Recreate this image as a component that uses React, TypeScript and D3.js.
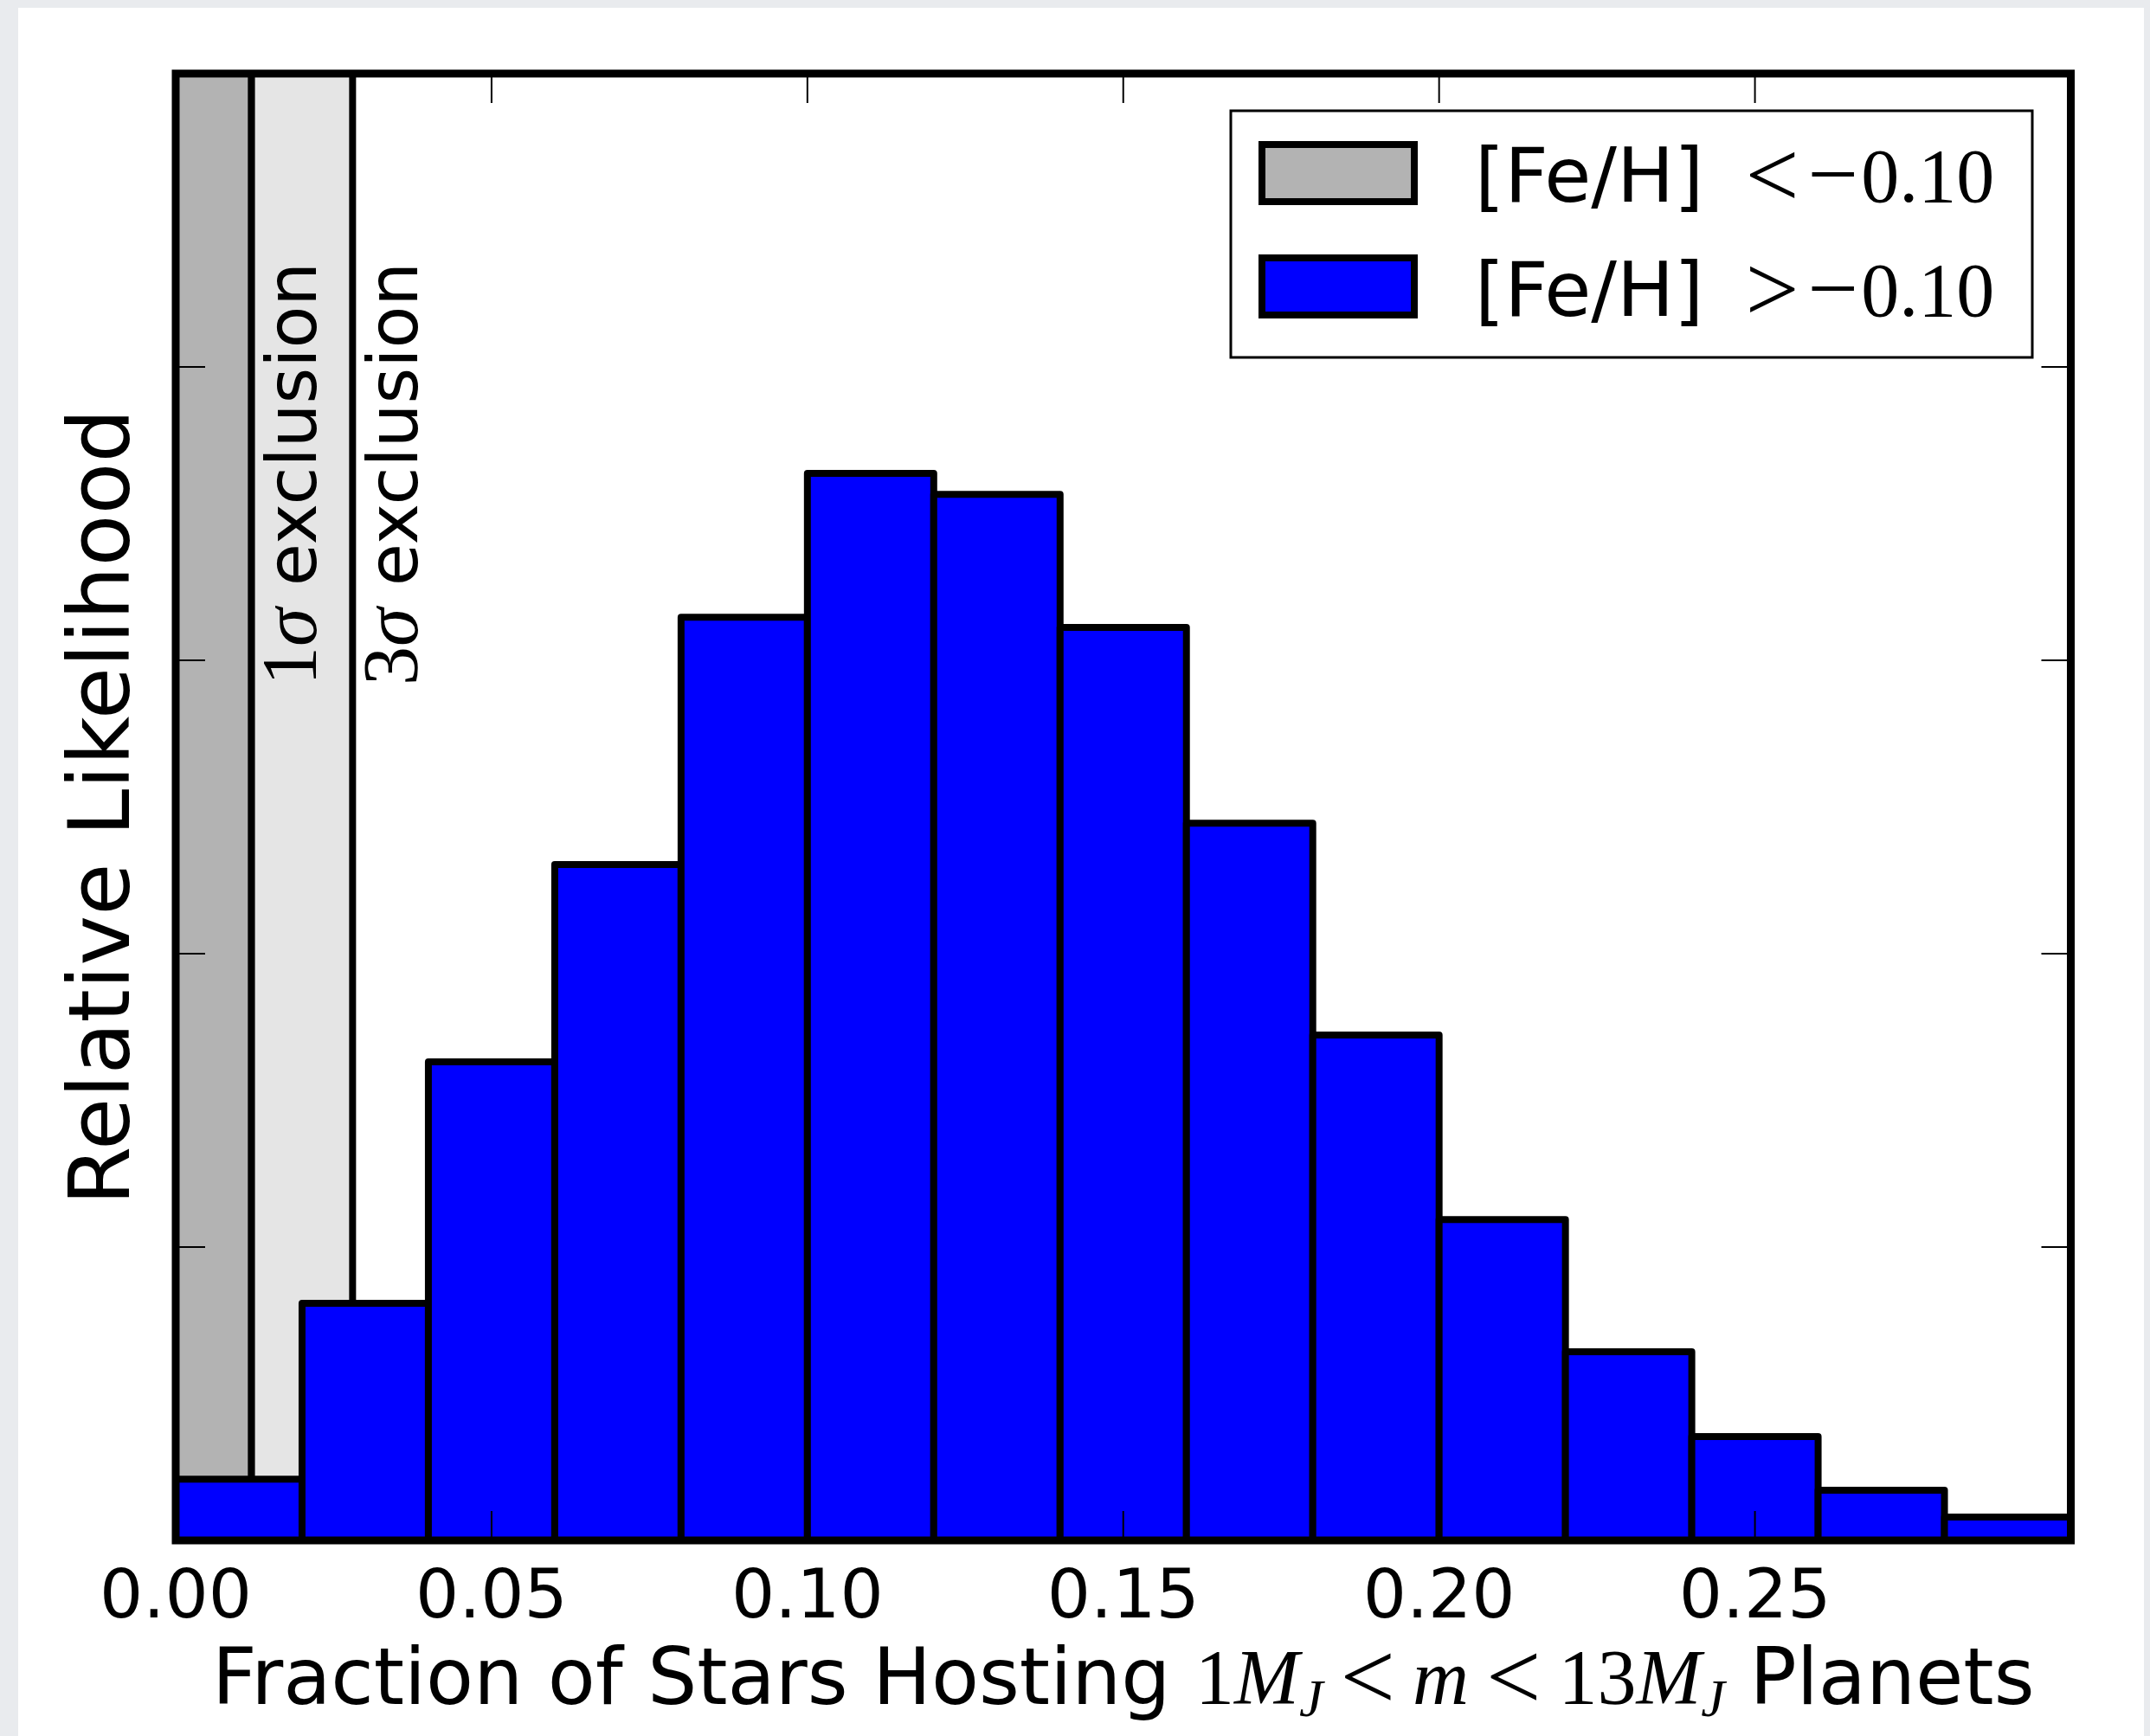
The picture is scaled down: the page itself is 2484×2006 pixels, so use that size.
import React from "react";
import * as d3 from "d3";

// Histogram bin edges (fraction of stars hosting giant planets)
const binEdges = [0.0, 0.02, 0.04, 0.06, 0.08, 0.1, 0.12, 0.14, 0.16, 0.18, 0.2, 0.22, 0.24, 0.26, 0.28, 0.3];
// Relative likelihood for the [Fe/H] > -0.10 sample, one per bin
const likelihood = [0.209, 0.808, 1.631, 2.304, 3.147, 3.637, 3.566, 3.112, 2.445, 1.723, 1.094, 0.643, 0.354, 0.171, 0.08];

// Exclusion limits for the [Fe/H] < -0.10 sample
const exclusion1Sigma = 0.012;
const exclusion3Sigma = 0.028;

const xTicks = [0.0, 0.05, 0.1, 0.15, 0.2, 0.25];
const xTickLabels = ["0.00", "0.05", "0.10", "0.15", "0.20", "0.25"];
const yTicks = [0, 1, 2, 3, 4, 5];

const SANS = "'DejaVu Sans', 'Bitstream Vera Sans', sans-serif";
const SERIF = "'Liberation Serif', 'DejaVu Serif', serif";

const W = 2484;
const H = 2006;

const margin = { left: 203, right: 2392.5, top: 85, bottom: 1780 };

const x = d3.scaleLinear().domain([0, 0.3]).range([margin.left, margin.right]);
const y = d3.scaleLinear().domain([0, 5]).range([margin.bottom, margin.top]);

const BLUE = "#0000ff";
const DARK_GREY = "#b3b3b3";
const LIGHT_GREY = "#e5e5e5";

// relation signs are set larger (TeX-like wide "<" / ">") and dropped slightly
const REL_SCALE = 1.25;
const REL_DROP = 6;
const SUB_SHIFT = 14;

export default function App() {
  const tickLen = 34;
  const bins = likelihood.map((v, i) => ({ x0: binEdges[i], x1: binEdges[i + 1], v }));
  const plotW = margin.right - margin.left;
  const plotH = margin.bottom - margin.top;
  const cx = (margin.left + margin.right) / 2;
  const cy = (margin.top + margin.bottom) / 2;

  // legend geometry
  const lg = { x: 1422, y: 128, w: 926, h: 285 };
  const rows = [
    { fill: DARK_GREY, rel: "<", py: 167, base: 233 },
    { fill: BLUE, rel: ">", py: 298, base: 365 },
  ];

  const xl = 90;

  return (
    <svg
      width={W}
      height={H}
      style={{ position: "absolute", left: 0, top: 0, display: "block" }}
      xmlns="http://www.w3.org/2000/svg"
    >
      <rect x={0} y={0} width={W} height={H} fill="#e9ebee" />
      <rect x={21} y={9} width={2456} height={H} fill="#ffffff" />

      {/* exclusion spans */}
      <rect
        x={x(0)}
        y={y(5)}
        width={x(exclusion1Sigma) - x(0)}
        height={y(0) - y(5)}
        fill={DARK_GREY}
        stroke="#000"
        strokeWidth={8}
      />
      <rect
        x={x(exclusion1Sigma)}
        y={y(5)}
        width={x(exclusion3Sigma) - x(exclusion1Sigma)}
        height={y(0) - y(5)}
        fill={LIGHT_GREY}
        stroke="#000"
        strokeWidth={8}
      />

      {/* histogram bars */}
      {bins.map((b, i) => (
        <rect
          key={i}
          x={x(b.x0)}
          y={y(b.v)}
          width={x(b.x1) - x(b.x0)}
          height={y(0) - y(b.v)}
          fill={BLUE}
          stroke="#000"
          strokeWidth={8}
          strokeLinejoin="round"
        />
      ))}

      {/* ticks on all four sides, pointing inward */}
      {xTicks.map((t, i) => (
        <g key={"xt" + i} stroke="#000" strokeWidth={2}>
          <line x1={x(t)} x2={x(t)} y1={margin.bottom} y2={margin.bottom - tickLen} />
          <line x1={x(t)} x2={x(t)} y1={margin.top} y2={margin.top + tickLen} />
        </g>
      ))}
      {yTicks.map((t, i) => (
        <g key={"yt" + i} stroke="#000" strokeWidth={2}>
          <line x1={margin.left} x2={margin.left + tickLen} y1={y(t)} y2={y(t)} />
          <line x1={margin.right} x2={margin.right - tickLen} y1={y(t)} y2={y(t)} />
        </g>
      ))}

      {/* frame */}
      <rect
        x={margin.left}
        y={margin.top}
        width={plotW}
        height={plotH}
        fill="none"
        stroke="#000"
        strokeWidth={9}
      />

      {/* x tick labels */}
      {xTicks.map((t, i) => (
        <text
          key={"xl" + i}
          x={x(t)}
          y={1869}
          textAnchor="middle"
          fontFamily={SANS}
          fontSize={79}
          fill="#000"
        >
          {xTickLabels[i]}
        </text>
      ))}

      {/* exclusion labels */}
      {[
        { pos: 0.0222, n: "1" },
        { pos: 0.0382, n: "3" },
      ].map((s) => (
        <text
          key={s.n}
          transform={`translate(${x(s.pos)},792) rotate(-90)`}
          fontFamily={SANS}
          fontSize={80}
          fill="#000"
        >
          <tspan fontFamily={SERIF} fontSize={90}>{s.n}</tspan>
          <tspan fontFamily={SERIF} fontSize={90} fontStyle="italic">σ</tspan>
          <tspan> exclusion</tspan>
        </text>
      ))}

      {/* y axis label */}
      <text
        transform={`translate(149,${cy}) rotate(-90)`}
        textAnchor="middle"
        fontFamily={SANS}
        fontSize={98}
        fill="#000"
      >
        Relative Likelihood
      </text>

      {/* x axis label */}
      <text x={cx} y={1969} textAnchor="middle" fontFamily={SANS} fontSize={xl} fill="#000">
        <tspan>Fraction of Stars Hosting </tspan>
        <tspan fontFamily={SERIF}>1</tspan>
        <tspan fontFamily={SERIF} fontStyle="italic">M</tspan>
        <tspan fontFamily={SERIF} fontStyle="italic" fontSize={62} dy={SUB_SHIFT}>J</tspan>
        <tspan fontFamily={SERIF} fontSize={xl * REL_SCALE} dx={20} dy={REL_DROP - SUB_SHIFT}>{"<"}</tspan>
        <tspan fontFamily={SERIF} fontSize={xl} fontStyle="italic" dx={20} dy={-REL_DROP}>m</tspan>
        <tspan fontFamily={SERIF} fontSize={xl * REL_SCALE} dx={20} dy={REL_DROP}>{"<"}</tspan>
        <tspan fontFamily={SERIF} fontSize={xl} dx={20} dy={-REL_DROP}>13</tspan>
        <tspan fontFamily={SERIF} fontStyle="italic">M</tspan>
        <tspan fontFamily={SERIF} fontStyle="italic" fontSize={62} dy={SUB_SHIFT}>J</tspan>
        <tspan fontSize={xl} dy={-SUB_SHIFT}> Planets</tspan>
      </text>

      {/* legend */}
      <rect x={lg.x} y={lg.y} width={lg.w} height={lg.h} fill="#fff" stroke="#000" strokeWidth={3} />
      {rows.map((r, i) => (
        <g key={"lg" + i}>
          <rect x={1458} y={r.py} width={176} height={66} fill={r.fill} stroke="#000" strokeWidth={8} />
          <text x={1704} y={r.base} fontFamily={SANS} fontSize={88} fill="#000">
            <tspan>[Fe/H]</tspan>
            <tspan fontFamily={SERIF} fontSize={88 * REL_SCALE} dx={48} dy={REL_DROP}>{r.rel}</tspan>
            <tspan fontFamily={SERIF} fontSize={104} dx={10} dy={3 - REL_DROP}>{"\u2212"}</tspan>
            <tspan fontFamily={SERIF} fontSize={88} dx={3} dy={-3}>0.10</tspan>
          </text>
        </g>
      ))}
    </svg>
  );
}
